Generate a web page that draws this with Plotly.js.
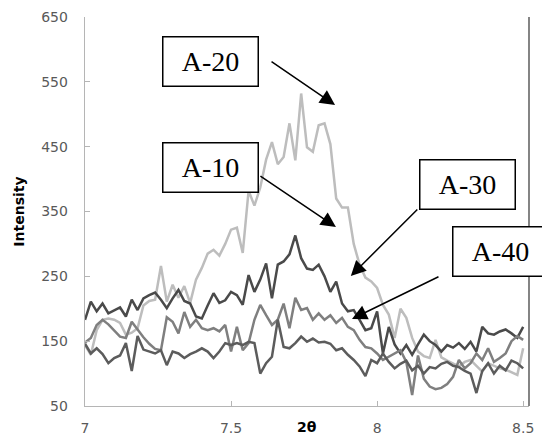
<!DOCTYPE html>
<html>
<head>
<meta charset="utf-8">
<script src="https://cdn.plot.ly/plotly-3.0.1.min.js"></script>
<style>html,body{margin:0;padding:0;background:#fff;}#chart{width:542px;height:437px;}</style>
</head>
<body>
<div id="chart"></div>
<script>
// 2θ positions (degrees)
const twoTheta = [
  7.00,7.02,7.04,7.06,7.08,7.10,7.12,7.14,7.16,7.18,
  7.20,7.22,7.24,7.26,7.28,7.30,7.32,7.34,7.36,7.38,
  7.40,7.42,7.44,7.46,7.48,7.50,7.52,7.54,7.56,7.58,
  7.60,7.62,7.64,7.66,7.68,7.70,7.72,7.74,7.76,7.78,
  7.80,7.82,7.84,7.86,7.88,7.90,7.92,7.94,7.96,7.98,
  8.00,8.02,8.04,8.06,8.08,8.10,8.12,8.14,8.16,8.18,
  8.20,8.22,8.24,8.26,8.28,8.30,8.32,8.34,8.36,8.38,
  8.40,8.42,8.44,8.46,8.48,8.50
];
const intensityA20 = [
  144,129,167,183,185,183,178,160,163,170,
  205,212,214,266,211,237,217,235,209,245,
  263,285,291,282,300,322,325,286,382,359,
  387,430,457,423,434,486,429,532,449,442,
  483,486,454,370,356,356,300,268,248,242,
  232,206,191,155,200,186,155,134,127,124,
  152,125,120,116,111,118,121,112,103,116,
  112,108,106,102,98,139
];
const intensityA10 = [
  183,211,196,208,193,198,202,188,214,198,
  216,221,225,214,201,216,229,212,208,188,
  185,205,224,209,213,226,221,206,252,226,
  245,270,216,268,273,284,313,278,262,260,
  268,250,226,242,208,196,198,183,167,170,
  196,131,172,145,131,144,129,145,160,150,
  144,134,144,140,147,138,149,134,172,162,
  160,165,168,162,155,172
];
const intensityA30 = [
  148,155,175,183,176,167,157,155,180,168,
  156,146,138,136,187,180,162,195,172,183,
  170,167,170,165,175,134,172,136,147,183,
  206,190,175,183,208,170,217,198,201,183,
  193,183,190,178,186,172,167,152,141,139,
  131,121,126,130,136,118,67,128,92,80,
  76,78,84,95,121,108,116,131,121,139,
  118,124,131,150,158,152
];
const intensityA40 = [
  146,131,139,130,116,124,128,147,104,158,
  137,134,131,136,113,134,131,124,130,134,
  139,134,124,134,147,144,147,144,149,147,
  100,116,126,183,141,139,147,157,149,154,
  148,149,146,136,139,129,121,111,96,121,
  116,131,118,108,115,120,105,112,100,110,
  108,115,118,112,110,104,100,70,104,116,
  100,112,105,120,116,108
];
const seriesNames = ['A-20','A-10','A-30','A-40'];
const seriesColors = ['#bdbdbd','#4a4a4a','#7f7f7f','#5c5c5c'];
const xTickVals = [7, 7.5, 8, 8.5];
const xTickText = ['7', '7.5', '8', '8.5'];
const yTickVals = [50, 150, 250, 350, 450, 550, 650];
const yTickText = ['50', '150', '250', '350', '450', '550', '650'];

const seriesData = [intensityA20, intensityA10, intensityA30, intensityA40];
const traces = seriesData.map((ys, i) => ({
  type: 'scatter', mode: 'lines', x: twoTheta, y: ys, name: seriesNames[i],
  line: {color: seriesColors[i], width: 2.5}, hoverinfo: 'skip'
}));

const boxStyle = {
  showarrow: false, xref: 'x', yref: 'y',
  font: {family: 'Liberation Serif', size: 28, color: '#000'},
  bordercolor: '#000', borderwidth: 1.5, borderpad: 0, bgcolor: '#fff',
  width: 94, height: 48, xanchor: 'center', yanchor: 'middle'
};
const arrowStyle = {
  showarrow: true, text: '', xref: 'x', yref: 'y',
  arrowhead: 2, arrowsize: 2, arrowwidth: 1.5, arrowcolor: '#000', standoff: 0
};

const layout = {
  width: 542, height: 437,
  margin: {l: 85, r: 13, t: 17, b: 31, pad: 0},
  paper_bgcolor: '#fff', plot_bgcolor: '#fff',
  showlegend: false,
  font: {family: 'DejaVu Sans', size: 14, color: '#595959'},
  xaxis: {
    range: [7, 8.52], tickmode: 'array', tickvals: xTickVals, ticktext: xTickText,
    showgrid: false, zeroline: false, showline: true, linecolor: '#b5b5b5', linewidth: 1.3,
    ticks: 'inside', ticklen: 5, tickcolor: '#b5b5b5', tickwidth: 1,
    tickfont: {family: 'DejaVu Sans', size: 14, color: '#595959'},
    automargin: false, ticklabelstandoff: 9
  },
  yaxis: {
    range: [50, 650], tickmode: 'array', tickvals: yTickVals, ticktext: yTickText,
    showgrid: false, zeroline: false, showline: true, linecolor: '#b5b5b5', linewidth: 1.3,
    ticks: 'inside', ticklen: 5, tickcolor: '#b5b5b5', tickwidth: 1,
    tickfont: {family: 'DejaVu Sans', size: 14, color: '#595959'},
    automargin: false, ticklabelstandoff: 13,
    title: {text: 'Intensity', font: {family: 'DejaVu Sans', size: 14, color: '#000', weight: 'bold'}, standoff: 13}
  },
  shapes: [
    {type: 'line', xref: 'paper', yref: 'paper', x0: 1, x1: 1, y0: 0, y1: 1,
     line: {color: '#333333', width: 1.2}}
  ],
  annotations: [
    Object.assign({}, boxStyle, {x: 7.430, y: 581.5, text: 'A-20'}),
    Object.assign({}, boxStyle, {x: 7.429, y: 418.2, text: 'A-10'}),
    Object.assign({}, boxStyle, {x: 8.311, y: 392.4, text: 'A-30'}),
    Object.assign({}, boxStyle, {x: 8.422, y: 289, text: 'A-40'}),
    Object.assign({}, arrowStyle, {x: 7.856, y: 514.3, ax: -65, ay: -44.5}),
    Object.assign({}, arrowStyle, {x: 7.859, y: 326.1, ax: -77, ay: -52}),
    Object.assign({}, arrowStyle, {x: 7.910, y: 250.5, ax: 68, ay: -68}),
    Object.assign({}, arrowStyle, {x: 7.914, y: 184.2, ax: 88, ay: -43}),
    {text: '2θ', xref: 'paper', yref: 'paper', x: 0.5, y: -0.054, xanchor: 'center', yanchor: 'middle',
     showarrow: false, font: {family: 'DejaVu Sans', size: 14, color: '#000', weight: 'bold'}}
  ]
};

Plotly.newPlot('chart', traces, layout, {displayModeBar: false, staticPlot: true});
</script>
</body>
</html>
